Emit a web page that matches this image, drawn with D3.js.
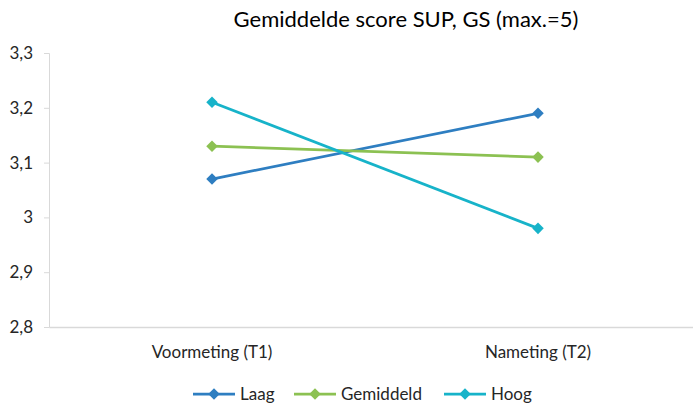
<!DOCTYPE html>
<html>
<script src="https://d3js.org/d3.v7.min.js"></script>
<style>
    body { margin: 0; background: #fff; }
    .domain { stroke: #d9d9d9; }
    .tick line { stroke: #d9d9d9; }
    .tick text { font-size: 17px; font-family: Lato, sans-serif; fill: #262626; }
</style>
<body></body>
<script>
    const categories = ["Voormeting (T1)", "Nameting (T2)"];
    const seriesNames = ["Laag", "Gemiddeld", "Hoog"];
    const laag = [3.07, 3.19];
    const gemiddeld = [3.13, 3.11];
    const hoog = [3.21, 2.98];
    const colors = ["#2e7ec1", "#8cc152", "#17b3c9"];
    const yTicks = [2.8, 2.9, 3.0, 3.1, 3.2, 3.3];

    const width = 693, height = 405;
    const svg = d3.select("body").append("svg").attr("width", width).attr("height", height);

    const series = [laag, gemiddeld, hoog].map((vals, i) => ({
        name: seriesNames[i], color: colors[i],
        values: vals.map((v, j) => ({ cat: categories[j], v }))
    }));

    const x = d3.scaleBand().domain(categories).range([49, 701]);
    const y = d3.scaleLinear().domain([2.8, 3.3]).range([327, 53]);

    svg.append("text")
        .attr("x", 406).attr("y", 27)
        .attr("text-anchor", "middle")
        .attr("font-family", "Lato, sans-serif")
        .attr("font-size", 22)
        .attr("fill", "#000")
        .text("Gemiddelde score SUP, GS (max.=5)");

    svg.append("g")
        .attr("transform", "translate(49,0)")
        .call(d3.axisLeft(y).tickValues(yTicks).tickSize(5).tickPadding(11)
            .tickFormat(d => String(d3.format(".1~f")(d)).replace(".", ",")));

    const xAxis = svg.append("g")
        .attr("transform", "translate(0,327)")
        .call(d3.axisBottom(x).tickSize(0).tickPadding(19));
    xAxis.select(".domain").attr("stroke-width", 1.5);

    const line = d3.line().x(d => x(d.cat) + x.bandwidth() / 2).y(d => y(d.v));
    const diamond = d3.symbol().type(d3.symbolDiamond2).size(85);

    series.forEach(s => {
        svg.append("path").datum(s.values)
            .attr("fill", "none").attr("stroke", s.color).attr("stroke-width", 2.75)
            .attr("d", line);
        svg.selectAll(null).data(s.values).join("path")
            .attr("d", diamond)
            .attr("fill", s.color)
            .attr("transform", d => `translate(${x(d.cat) + x.bandwidth() / 2},${y(d.v)})`);
    });

    const legendX = [193, 294, 444];
    const legend = svg.append("g").selectAll("g").data(series).join("g")
        .attr("transform", (d, i) => `translate(${legendX[i]},394)`);
    legend.append("line").attr("x1", 0).attr("x2", 42)
        .attr("stroke", d => d.color).attr("stroke-width", 2.75);
    legend.append("path").attr("d", diamond).attr("fill", d => d.color)
        .attr("transform", "translate(21,0)");
    legend.append("text").attr("x", 47).attr("y", 6)
        .attr("font-family", "Lato, sans-serif").attr("font-size", 17).attr("fill", "#262626")
        .text(d => d.name);
</script>
</html>
